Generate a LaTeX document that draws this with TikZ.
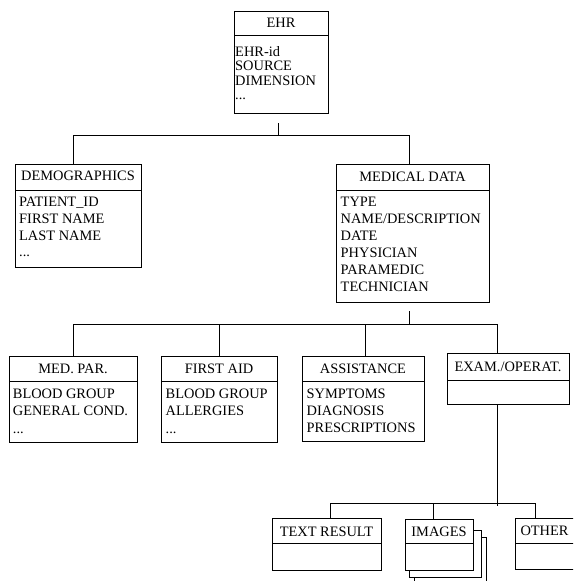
\documentclass[tikz,border=0pt]{standalone}
\usepackage{fontspec}
\setmainfont{Liberation Serif}
\tikzset{
  boxnode/.style={draw, line width=1pt, inner sep=0pt, fill=white},
  conn/.style={draw, line width=1pt},
  hdr/.style={anchor=base, inner sep=0pt, font=\fontsize{14.4}{17}\selectfont},
  bodytxt/.style={anchor=base west, inner sep=0pt, font=\fontsize{14.4}{17}\selectfont},
}
\newcommand\threedots{...}
% name, left, top, right, divider, bottom, title, title baseline
\newcommand\umlbox[8]{%
  \node[boxnode, anchor=north west, minimum width={(#4-#2)*1pt}, minimum height={(#6-#3)*1pt}] (#1) at (#2,-#3) {};
  \draw[conn] (#1.west |- 0,-#5) -- (#1.east |- 0,-#5);
  \node[hdr] (#1-title) at ({(#2+#4)/2},-#8) {#7};
}
% name, x, first baseline, spacing, list
\newcommand\bodylines[5]{%
  \foreach \s [count=\i from 0] in {#5}
    \node[bodytxt] (#1-\i) at (#2,{-(#3+\i*#4)}) {\s};
}
\begin{document}
\begin{tikzpicture}[x=1pt,y=1pt]
\useasboundingbox (0,0) rectangle (573,-581);
\clip (0,0) rectangle (573,-581);
\fill[white] (0,0) rectangle (573,-581);

\umlbox{ehr}{234}{11}{328}{35}{113}{EHR}{27.7}
\bodylines{ehr}{235}{56.3}{14.5}{EHR-id,SOURCE,DIMENSION,\threedots}

\umlbox{demo}{15}{164}{141}{190}{267}{DEMOGRAPHICS}{180.5}
\bodylines{demo}{19}{206.4}{16.8}{PATIENT\_ID,FIRST NAME,LAST NAME,\threedots}

\umlbox{mdata}{336}{164}{489}{190}{302}{MEDICAL DATA}{181.4}
\bodylines{mdata}{340.5}{206.4}{17.1}{TYPE,{NAME/DESCRIPTION},DATE,PHYSICIAN,PARAMEDIC,TECHNICIAN}

\umlbox{medpar}{9}{356}{137}{381}{442}{MED. PAR.}{373}
\bodylines{medpar}{12.7}{398}{17.5}{BLOOD GROUP,GENERAL COND.,\threedots}

\umlbox{faid}{161}{356}{277}{381}{442}{FIRST AID}{373}
\bodylines{faid}{165.5}{398}{17.5}{BLOOD GROUP,ALLERGIES,\threedots}

\umlbox{assist}{302}{356}{424}{381}{441}{ASSISTANCE}{373}
\bodylines{assist}{306.5}{398}{17.2}{SYMPTOMS,DIAGNOSIS,PRESCRIPTIONS}

\umlbox{exam}{447}{353}{569}{380}{404}{EXAM./OPERAT.}{371.4}

\umlbox{textres}{272}{518}{381}{543}{570}{TEXT RESULT}{536.4}

\node[boxnode, anchor=north west, minimum width=72pt, minimum height=53pt] (img3) at (414,-537) {};
\node[boxnode, anchor=north west, minimum width=72pt, minimum height=47pt] (img2) at (409,-530) {};
\umlbox{images}{405}{519}{473}{543}{570}{IMAGES}{536.4}

\umlbox{other}{515}{518}{574}{543}{569}{OTHER}{535.4}

% connectors, level 1
\coordinate (ehrout) at (278,-123);
\coordinate (b1l) at (73,-135);
\coordinate (b1r) at (409,-135);
\draw[conn] (ehrout) -- (ehrout |- b1l);
\draw[conn] (demo.north -| b1l) -- (b1l) -- (b1r) -- (mdata.north -| b1r);

% level 2
\coordinate (mdout) at (409,-311);
\coordinate (b2l) at (73,-324);
\coordinate (b2a) at (219,-324);
\coordinate (b2b) at (365,-324);
\coordinate (b2r) at (497,-324);
\draw[conn] (mdout) -- (mdout |- b2l);
\draw[conn] (medpar.north -| b2l) -- (b2l) -- (b2r) -- (exam.north -| b2r);
\draw[conn] (faid.north -| b2a) -- (b2a);
\draw[conn] (assist.north -| b2b) -- (b2b);

% level 3
\coordinate (examend) at (497,-506);
\coordinate (b3l) at (330,-503);
\coordinate (b3m) at (433,-503);
\coordinate (b3r) at (535,-503);
\draw[conn] (exam.south -| examend) -- (examend);
\draw[conn] (textres.north -| b3l) -- (b3l) -- (b3r) -- (other.north -| b3r);
\draw[conn] (images.north -| b3m) -- (b3m);
\end{tikzpicture}
\end{document}
